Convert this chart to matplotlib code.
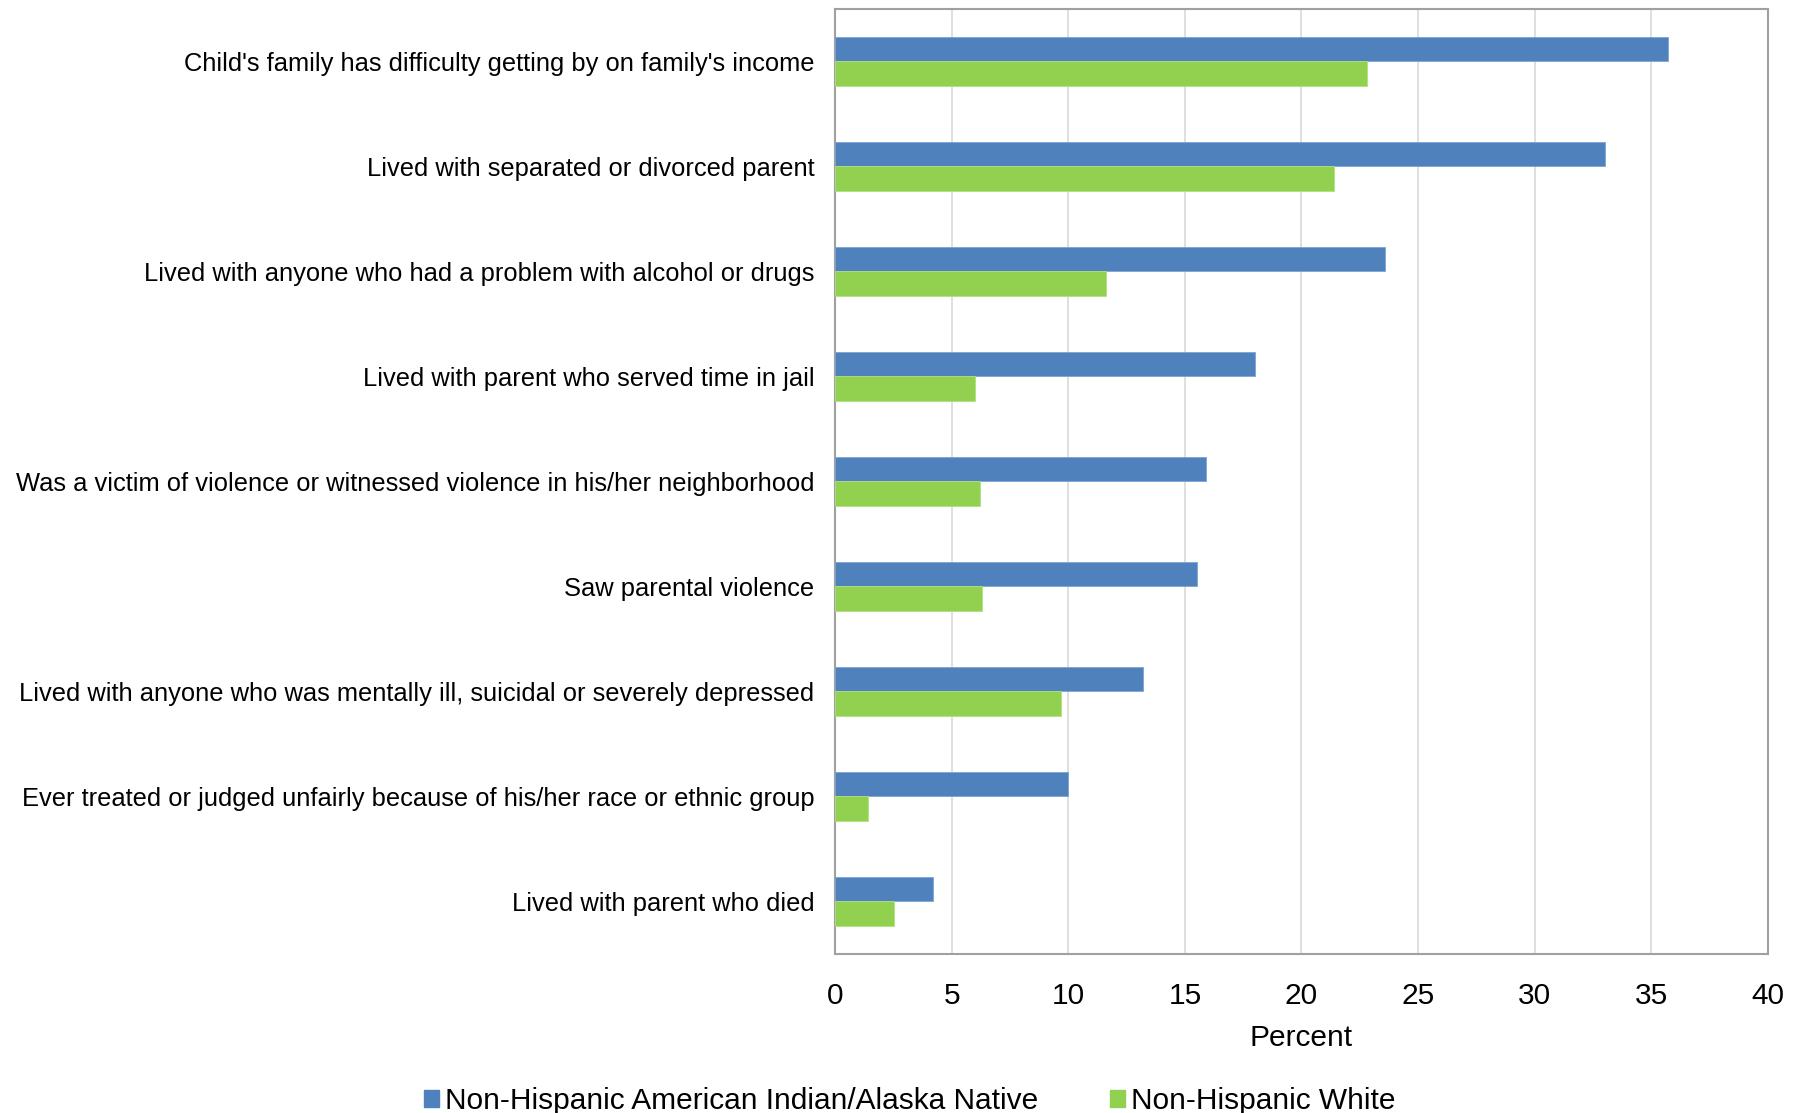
import matplotlib
matplotlib.use("Agg")
import matplotlib.pyplot as plt
import numpy as np
from matplotlib.patches import Patch

plt.rcParams['font.family'] = ['Liberation Sans', 'DejaVu Sans']

# categories, top to bottom
categories = [
    "Child's family has difficulty getting by on family's income",
    "Lived with separated or divorced parent",
    "Lived with anyone who had a problem with alcohol or drugs",
    "Lived with parent who served time in jail",
    "Was a victim of violence or witnessed violence in his/her neighborhood",
    "Saw parental violence",
    "Lived with anyone who was mentally ill, suicidal or severely depressed",
    "Ever treated or judged unfairly because of his/her race or ethnic group",
    "Lived with parent who died",
]
aian = [35.7, 33.0, 23.6, 18.0, 15.9, 15.5, 13.2, 10.0, 4.2]
white = [22.8, 21.4, 11.6, 6.0, 6.2, 6.3, 9.7, 1.4, 2.5]
xticks = [0, 5, 10, 15, 20, 25, 30, 35, 40]

blue = '#4F81BD'
green = '#92D050'

fig = plt.figure(figsize=(18.02, 11.13), dpi=100)
ax = fig.add_axes([0.4635, 0.143, 0.5175, 0.849])

y = np.arange(len(categories))
h = 0.235
ax.barh(y - h / 2, aian, height=h, color=blue, edgecolor='#7FA3D3', linewidth=0.6, zorder=3)
ax.barh(y + h / 2, white, height=h, color=green, edgecolor='#B0E080', linewidth=0.6, zorder=3)

ax.set_ylim(len(categories) - 0.5, -0.5)
ax.set_xlim(0, 40)
ax.set_yticks(y)
ax.set_yticklabels(categories, fontsize=18.4)
ax.set_xticks(xticks)
ax.set_xticklabels([str(t) for t in xticks], fontsize=21.5)
ax.tick_params(axis='y', length=0, pad=15)
ax.tick_params(axis='x', length=0, pad=20)
ax.xaxis.grid(True, color='#D9D9D9', linewidth=1.2, zorder=0)
ax.set_axisbelow(True)
for s in ax.spines.values():
    s.set_color('#A0A0A0')
    s.set_linewidth(1.5)

ax.set_xlabel('Percent', fontsize=21.5, labelpad=10)

handles = [Patch(color=blue, label='Non-Hispanic American Indian/Alaska Native'),
           Patch(color=green, label='Non-Hispanic White')]
fig.legend(handles=handles, loc='center', bbox_to_anchor=(0.505, 0.011), ncol=2,
           frameon=False, fontsize=21.5, handlelength=0.5, handleheight=0.5,
           handletextpad=0.2, columnspacing=2.4)

fig.savefig('out.png', dpi=100)
